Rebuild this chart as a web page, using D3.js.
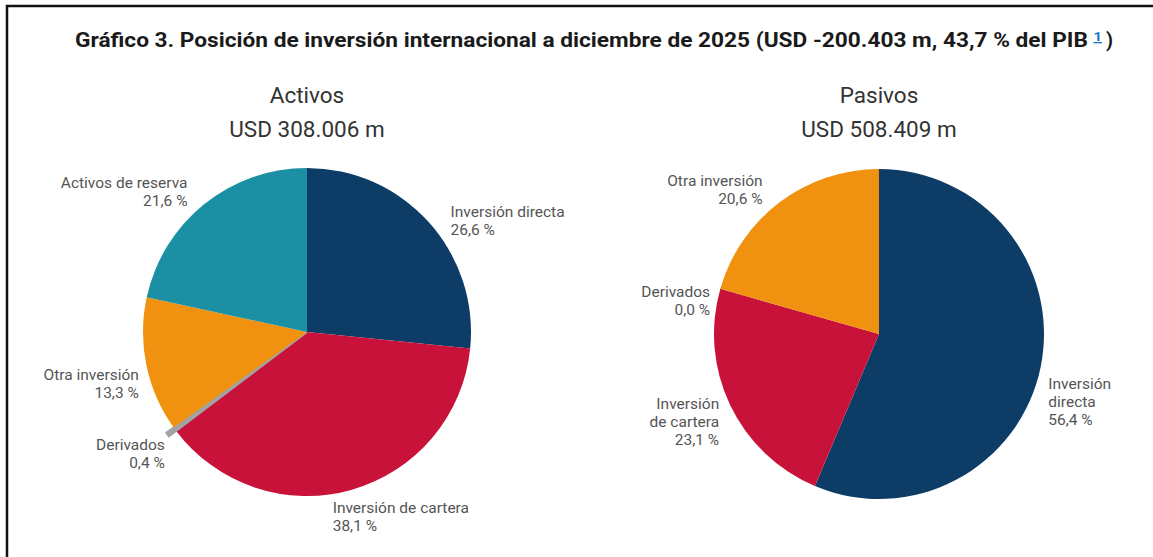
<!DOCTYPE html>
<html>
<head>
<meta charset="utf-8">
<script src="https://cdn.jsdelivr.net/npm/d3@7"></script>
<style>
  body { margin: 0; background: #fff; }
  svg { display: block; font-family: Roboto, "Noto Sans", sans-serif; }
</style>
</head>
<body>
<svg width="1153" height="557"></svg>
<script>
// data
const categories = ["Inversión directa", "Inversión de cartera", "Derivados", "Otra inversión", "Activos de reserva"];
const activosValues = [26.6, 38.1, 0.4, 13.3, 21.6];
const pasivosValues = [56.4, 23.1, 0.0, 20.6];
const colors = ["#0d3d67", "#c9123a", "#a3a3a3", "#f0920f", "#1b90a4"];

const activosLabels = [["Inversión directa", "26,6 %"], ["Inversión de cartera", "38,1 %"], ["Derivados", "0,4 %"], ["Otra inversión", "13,3 %"], ["Activos de reserva", "21,6 %"]];
const pasivosLabels = [["Inversión", "directa", "56,4 %"], ["Inversión", "de cartera", "23,1 %"], ["Derivados", "0,0 %"], ["Otra inversión", "20,6 %"]];

const titleText = "Gráfico 3. Posición de inversión internacional a diciembre de 2025 (USD -200.403 m, 43,7 % del PIB ";

const svg = d3.select("svg");

// frame (top and left edges only)
svg.append("path")
  .attr("d", "M7,557 V6 H1153")
  .attr("fill", "none")
  .attr("stroke", "#111")
  .attr("stroke-width", 2.5);

const title = svg.append("text")
  .attr("x", 75)
  .attr("y", 47)
  .attr("font-size", 20)
  .attr("font-weight", 700)
  .attr("fill", "#1a1a1a")
  .attr("textLength", 1027)
  .attr("lengthAdjust", "spacingAndGlyphs");
title.append("tspan").text(titleText);
title.append("tspan")
  .attr("fill", "#1a73c8")
  .attr("font-size", 13)
  .attr("baseline-shift", "6")
  .attr("text-decoration", "underline")
  .text("1");
svg.append("text")
  .attr("x", 1106).attr("y", 47)
  .attr("font-size", 20).attr("font-weight", 700).attr("fill", "#1a1a1a")
  .text(")");

const pie = d3.pie().sort(null).value(d => d);

function drawPie(cfg) {
  const g = svg.append("g").attr("transform", `translate(${cfg.cx},${cfg.cy})`);

  svg.append("text")
    .attr("x", cfg.cx).attr("y", 103)
    .attr("text-anchor", "middle")
    .attr("font-size", 22.5).attr("fill", "#333")
    .text(cfg.name);
  svg.append("text")
    .attr("x", cfg.cx).attr("y", 137)
    .attr("text-anchor", "middle")
    .attr("font-size", 22.5).attr("fill", "#333")
    .text(cfg.total);

  const arcs = pie(cfg.values);
  // the tiny derivados slice sticks out a little past the rim
  const small = d => d.index === 2 && d.value > 0;
  const arc = d3.arc().innerRadius(0).outerRadius(d => small(d) ? cfg.r + 9 : cfg.r);
  const labelArc = d3.arc().innerRadius(cfg.r + 20).outerRadius(cfg.r + 20);

  g.selectAll("path.slice")
    .data(arcs.filter(d => d.value > 0))
    .join("path")
    .attr("class", "slice")
    .attr("d", arc)
    .attr("fill", d => colors[d.index])
    .attr("stroke", d => small(d) ? colors[2] : "none")
    .attr("stroke-width", d => small(d) ? 2 : 0);

  const lab = g.selectAll("text.lab")
    .data(arcs)
    .join("text")
    .attr("class", "lab")
    .attr("font-size", 15.5)
    .attr("fill", "#555")
    .attr("text-anchor", (d, i) => cfg.anchor[i])
    .attr("transform", (d, i) => {
      const c = labelArc.centroid(d);
      return `translate(${c[0] + cfg.nudge[i][0]},${c[1] + cfg.nudge[i][1]})`;
    });
  lab.each(function(d, i) {
    d3.select(this).selectAll("tspan")
      .data(cfg.labels[i])
      .join("tspan")
      .attr("x", 0)
      .attr("dy", (t, j) => j === 0 ? 0 : 18)
      .text(t => t);
  });
}

drawPie({
  name: "Activos", total: "USD 308.006 m",
  cx: 307, cy: 332, r: 164,
  values: activosValues, labels: activosLabels,
  anchor: ["start", "start", "end", "end", "end"],
  nudge: [[7, 8], [-24, 4], [6, 9], [12, 11], [-4, -1]]
});

drawPie({
  name: "Pasivos", total: "USD 508.409 m",
  cx: 879, cy: 334, r: 165,
  values: pasivosValues, labels: pasivosLabels,
  anchor: ["start", "end", "end", "end"],
  nudge: [[-12, 18], [7, -5], [9, 14], [-5, 0]]
});
</script>
</body>
</html>
